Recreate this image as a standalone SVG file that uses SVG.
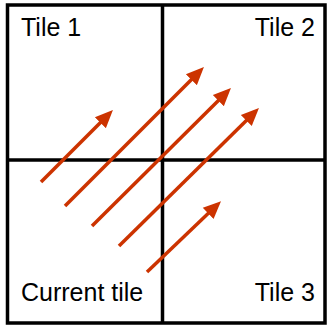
<svg xmlns="http://www.w3.org/2000/svg" width="328" height="327" viewBox="0 0 328 327">
<defs>
<style>
.grid{fill:none;stroke:#000;stroke-width:3.5}
.arr{stroke:#CC3300;stroke-width:3.5;fill:none;marker-end:url(#ah)}
.lbl{font-family:"Liberation Sans",Arial,sans-serif;font-size:25px;fill:#000}
</style>
<marker id="ah" markerUnits="userSpaceOnUse" markerWidth="20" markerHeight="20" viewBox="0 -9 18 18" refX="11" refY="0" orient="auto">
<path d="M0,-7 L16,0 L0,7 z" fill="#CC3300"/>
</marker>
</defs>
<rect width="328" height="327" fill="#fff"/>
<g id="tile1"><text class="lbl" x="21" y="36">Tile 1</text></g>
<g id="tile2"><text class="lbl" x="315" y="36" text-anchor="end">Tile 2</text></g>
<g id="current"><text class="lbl" x="21" y="301">Current tile</text></g>
<g id="tile3"><text class="lbl" x="315" y="301" text-anchor="end">Tile 3</text></g>
<g id="grid">
<rect class="grid" x="7.5" y="5" width="317.5" height="318"/>
<line class="grid" x1="162.5" y1="5" x2="162.5" y2="323"/>
<line class="grid" x1="7.5" y1="160" x2="325" y2="160"/>
</g>
<g id="connectors">
<line class="arr" x1="41" y1="182" x2="109" y2="114"/>
<line class="arr" x1="65" y1="206" x2="200" y2="71"/>
<line class="arr" x1="92" y1="226" x2="227" y2="92"/>
<line class="arr" x1="119" y1="246" x2="255" y2="112"/>
<line class="arr" x1="147" y1="272" x2="217" y2="205"/>
</g>
</svg>
